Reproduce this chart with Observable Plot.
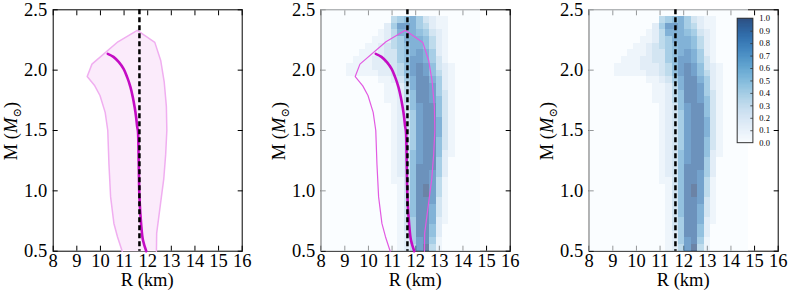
<!DOCTYPE html>
<html><head><meta charset="utf-8">
<script src="https://cdn.jsdelivr.net/npm/d3@7"></script>
<script src="https://cdn.jsdelivr.net/npm/@observablehq/plot@0.6"></script>
<style>
body{margin:0;background:#fff;}
#wrap{position:relative;width:789px;height:293px;overflow:hidden;}
#wrap svg{position:absolute;top:0;}
</style></head><body><div id="wrap"></div>
<script>
// ---------- data ----------
const rTicks = [8, 9, 10, 11, 12, 13, 14, 15, 16];
const mTicks = [0.5, 1.0, 1.5, 2.0, 2.5];
const dashedR = 11.65;

// uncertainty band (polygon outline), R in km, M in Msun
const bandR = [10.92, 10.72, 10.57, 10.43, 10.36, 10.31, 10.20, 9.98, 9.76, 9.44, 9.64, 10.74, 11.56, 12.30, 12.55, 12.70, 12.79, 12.81, 12.76, 12.68, 12.58, 12.46, 12.38, 12.37];
const bandM = [0.50, 0.62, 0.73, 0.95, 1.22, 1.50, 1.65, 1.79, 1.87, 1.947, 2.05, 2.235, 2.33, 2.23, 2.08, 1.90, 1.70, 1.50, 1.30, 1.10, 0.95, 0.77, 0.65, 0.50];

// central mass-radius curve
const lineR = [10.31, 10.55, 10.78, 10.98, 11.13, 11.27, 11.37, 11.45, 11.51, 11.555, 11.585, 11.62, 11.65, 11.72, 11.80, 11.94];
const lineM = [2.135, 2.11, 2.066, 2.01, 1.942, 1.86, 1.776, 1.69, 1.61, 1.53, 1.50, 1.22, 0.95, 0.73, 0.59, 0.50];

// heat-map bin edges
const rEdges = [8, 8.27, 8.54, 8.81, 9.08, 9.35, 9.62, 9.89, 10.16, 10.43, 10.70, 10.97, 11.24, 11.51, 11.78, 12.05, 12.32, 12.59, 12.86, 13.13, 13.40, 13.67, 13.94, 14.21, 14.48, 14.75];
const mEdges = [0.5, 0.556, 0.611, 0.667, 0.722, 0.778, 0.833, 0.889, 0.944, 1.0, 1.056, 1.111, 1.167, 1.222, 1.278, 1.333, 1.389, 1.444, 1.5, 1.556, 1.611, 1.667, 1.722, 1.778, 1.833, 1.889, 1.944, 2.0, 2.056, 2.111, 2.167, 2.222, 2.278, 2.333, 2.389, 2.444, 2.5];

// normalised density, tenths per cell ('X' = 1.0); rows bottom (M=0.5) to top (M=2.5)
const densityRows = [
  "0000000000001248X41000000",
  "0000000000001258951000000",
  "0000000000001259962000000",
  "0000000000001359962000000",
  "0000000000001359972100000",
  "0000000000001369973100000",
  "0000000000001369973100000",
  "0000000000001369983100000",
  "0000000000001369X84100000",
  "0000000000001369X84100000",
  "0000000000011369984100000",
  "0000000000012369985200000",
  "0000000000012369995200000",
  "0000000000012368995200000",
  "0000000000012368996210000",
  "0000000000012358996310000",
  "0000000000012358996310000",
  "0000000000012358997310000",
  "0000000000012358997310000",
  "0000000000012358997310000",
  "0000000000012358996310000",
  "0000000000012368996310000",
  "0000000000112469986310000",
  "0000000000112469985310000",
  "0000000000112479985210000",
  "0000000001123579975210000",
  "0000111112234689864210000",
  "0000111122234689863210000",
  "0000011122335688753100000",
  "0000001112335678752100000",
  "0000000112345677642100000",
  "0000000011245777642100000",
  "0000000001247776532100000",
  "0000000000258875421100000",
  "0000000000045675321100000",
  "0000000000000000000000000"
];

// colour bar
const cbarTicks = [0, 0.1, 0.2, 0.3, 0.4, 0.5, 0.6, 0.7, 0.8, 0.9, 1.0];
const cbarLabels = ["0.0", "0.1", "0.2", "0.3", "0.4", "0.5", "0.6", "0.7", "0.8", "0.9", "1.0"];

// ---------- derived tables ----------
const cells = [];
densityRows.forEach((row, j) => {
  [...row].forEach((ch, i) => {
    cells.push({x1: rEdges[i], x2: rEdges[i + 1], y1: mEdges[j], y2: mEdges[j + 1], v: ch === "X" ? 1 : +ch / 10});
  });
});
const band = bandR.map((r, i) => ({r, m: bandM[i]}));
const curve = lineR.map((r, i) => ({r, m: lineM[i]}));

// colour-bar placement (legend layout, in axis units)
const CB = {r1: 14.285, r2: 14.95, m0: 1.395, m1: 2.426, labelR: 15.2};
const cbY = v => CB.m0 + v * (CB.m1 - CB.m0);
const cbSteps = d3.range(0, 1, 0.01);

const font = "Liberation Serif, Times New Roman, Times, serif";
const panelLefts = [0, 268.3, 536.3];
const FS = 18.5;

function makePanel(kind) {
  const marks = [];
  marks.push(Plot.frame({stroke: "#000", strokeWidth: 1}));
  marks.push(Plot.axisX({anchor: "bottom", ticks: rTicks, tickSize: 5, dy: -5, tickFormat: () => "", label: null}));
  marks.push(Plot.axisX({anchor: "top", ticks: rTicks, tickSize: 5, dy: 5, tickFormat: () => "", label: null}));
  marks.push(Plot.axisY({anchor: "left", ticks: mTicks, tickSize: 5, dx: 5, tickFormat: () => "", label: null}));
  marks.push(Plot.axisY({anchor: "right", ticks: mTicks, tickSize: 5, dx: -5, tickFormat: () => "", label: null}));
  if (kind !== 0) {
    marks.push(Plot.rect(cells, {x1: "x1", x2: "x2", y1: "y1", y2: "y2", fill: "v", fillOpacity: 0.6, shapeRendering: "crispEdges"}));
  }
  if (kind === 0) {
    marks.push(Plot.line(band, {x: "r", y: "m", fill: "#fbebfb", stroke: "#f0aef0", strokeWidth: 1.5}));
  }
  if (kind === 1) {
    marks.push(Plot.line(band, {x: "r", y: "m", stroke: "#e25ae2", strokeWidth: 1.2}));
  }
  if (kind !== 2) {
    marks.push(Plot.line(curve, {x: "r", y: "m", stroke: "#c40cc4", strokeWidth: 2.6, curve: "catmull-rom"}));
  }
  marks.push(Plot.ruleX([dashedR], {stroke: "#000", strokeWidth: 2.5, strokeDasharray: "5,3"}));
  if (kind === 2) {
    marks.push(Plot.rect(cbSteps, {x1: CB.r1, x2: CB.r2, y1: d => cbY(d), y2: d => cbY(d + 0.01), fill: d => d + 0.005, fillOpacity: 0.85, shapeRendering: "crispEdges"}));
    marks.push(Plot.rect([0], {x1: CB.r1, x2: CB.r2, y1: CB.m0, y2: CB.m1, fill: "none", stroke: "#333", strokeWidth: 1}));
    marks.push(Plot.ruleY(cbarTicks.slice(1, -1), {y: d => cbY(d), x1: CB.r2 - 0.11, x2: CB.r2, stroke: "#333", strokeWidth: 0.8}));
    marks.push(Plot.text(cbarTicks, {x: CB.labelR, y: d => cbY(d), text: (d, i) => cbarLabels[i], textAnchor: "start", fontSize: 8.5, fill: "#000"}));
  }
  marks.push(Plot.axisX({anchor: "bottom", ticks: rTicks, tickSize: 0, tickPadding: 3, fontSize: FS, label: null, tickFormat: d => String(d)}));
  marks.push(Plot.axisY({anchor: "left", ticks: mTicks, tickSize: 0, tickPadding: 6, fontSize: FS, label: null, tickFormat: d3.format(".1f")}));

  const svg = Plot.plot({
    width: 252, height: 293,
    marginLeft: 52.7, marginRight: 10.3, marginTop: 9.3, marginBottom: 42.3,
    x: {domain: [8, 16]},
    y: {domain: [0.5, 2.5]},
    color: {type: "linear", scheme: "blues", domain: [0, 1]},
    style: {fontFamily: font, fontSize: FS + "px", background: "transparent", color: "#000", overflow: "visible"},
    marks
  });
  const s = d3.select(svg);
  // x-axis title
  s.append("text")
    .attr("x", 52.7 + 94.5).attr("y", 286)
    .attr("text-anchor", "middle")
    .attr("font-family", font).attr("font-size", FS).attr("fill", "#000")
    .text("R (km)");
  // y-axis title with italic M and subscript sun symbol
  const t = s.append("text")
    .attr("transform", "translate(16.5,131) rotate(-90)")
    .attr("text-anchor", "middle")
    .attr("font-family", font)
    .attr("font-size", FS)
    .attr("fill", "#000");
  t.append("tspan").text("M (");
  t.append("tspan").attr("font-style", "italic").text("M");
  t.append("tspan").attr("font-size", 11.5).attr("dy", 4).attr("font-family", "DejaVu Serif, serif").text("\u2299");
  t.append("tspan").attr("dy", -4).text(")");
  svg.style.left = panelLefts[kind] + "px";
  return svg;
}

const wrap = document.getElementById("wrap");
[0, 1, 2].forEach(k => wrap.appendChild(makePanel(k)));
</script>
</body></html>
